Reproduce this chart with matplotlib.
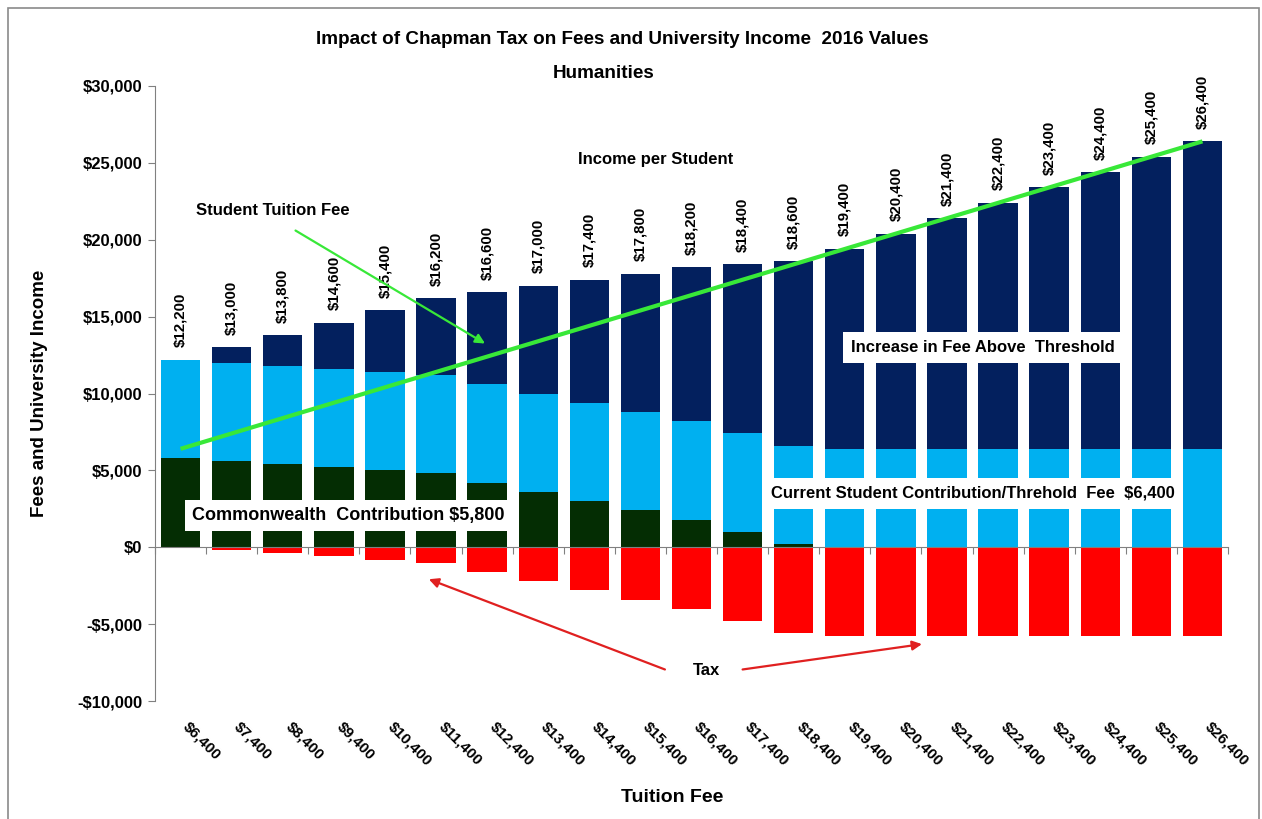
import matplotlib
matplotlib.use("Agg")
import matplotlib.pyplot as plt
from matplotlib.ticker import FuncFormatter, FixedLocator
from matplotlib.patches import Rectangle
import matplotlib.transforms as mtransforms

plt.rcParams['font.family'] = ['Liberation Sans', 'DejaVu Sans']
plt.rcParams['font.weight'] = 'bold'

# data
fees = [6400, 7400, 8400, 9400, 10400, 11400, 12400, 13400, 14400, 15400, 16400,
        17400, 18400, 19400, 20400, 21400, 22400, 23400, 24400, 25400, 26400]
commonwealth = [5800, 5600, 5400, 5200, 5000, 4800, 4200, 3600, 3000, 2400, 1800,
                1000, 200, 0, 0, 0, 0, 0, 0, 0, 0]
threshold = [6400, 6400, 6400, 6400, 6400, 6400, 6400, 6400, 6400, 6400, 6400,
             6400, 6400, 6400, 6400, 6400, 6400, 6400, 6400, 6400, 6400]
increase = [0, 1000, 2000, 3000, 4000, 5000, 6000, 7000, 8000, 9000, 10000,
            11000, 12000, 13000, 14000, 15000, 16000, 17000, 18000, 19000, 20000]
tax = [0, -200, -400, -600, -800, -1000, -1600, -2200, -2800, -3400, -4000,
       -4800, -5600, -5800, -5800, -5800, -5800, -5800, -5800, -5800, -5800]
income = [12200, 13000, 13800, 14600, 15400, 16200, 16600, 17000, 17400, 17800, 18200,
          18400, 18600, 19400, 20400, 21400, 22400, 23400, 24400, 25400, 26400]
tick_labels = ['$' + format(f, ',') for f in fees]

navy = '#03205E'
light_blue = '#00B0F0'
dark_green = '#042D03'
red = '#FF0000'
lime = '#38E838'

W, H = 1262, 819
fig = plt.figure(figsize=(W / 100, H / 100), dpi=100)
ax = fig.add_axes([155 / W, 1 - 701 / H, (1228 - 155) / W, (701 - 86) / H])

x = list(range(len(fees)))
bw = 0.77
ax.bar(x, commonwealth, bw, color=dark_green, zorder=2)
ax.bar(x, threshold, bw, bottom=commonwealth, color=light_blue, zorder=2)
bottom3 = [c + t for c, t in zip(commonwealth, threshold)]
ax.bar(x, increase, bw, bottom=bottom3, color=navy, zorder=2)
ax.bar(x, tax, bw, color=red, zorder=2)

# student tuition fee line
ax.plot(x, fees, color=lime, lw=3, zorder=4, solid_capstyle='butt')

for i, v in enumerate(income):
    ax.annotate('$' + format(v, ','), (i, v), xytext=(0, 9), textcoords='offset points',
                rotation=90, ha='center', va='bottom', fontsize=10.8, fontweight='bold')

ax.set_xlim(-0.5, len(fees) - 0.5)
ax.set_ylim(-10000, 30000)
ax.set_yticks([-10000, -5000, 0, 5000, 10000, 15000, 20000, 25000, 30000])
ax.yaxis.set_major_formatter(FuncFormatter(lambda v, p: ('-$' if v < 0 else '$') + format(abs(int(v)), ',')))
ax.tick_params(axis='y', labelsize=12, length=5, color='#808080', pad=4)
for lab in ax.get_yticklabels():
    lab.set_fontweight('bold')

ax.spines['top'].set_visible(False)
ax.spines['right'].set_visible(False)
ax.spines['left'].set_color('#808080')
ax.spines['bottom'].set_color('#808080')
ax.spines['bottom'].set_position(('data', 0))
ax.xaxis.set_major_locator(FixedLocator([i - 0.5 for i in range(len(fees) + 1)]))
ax.tick_params(axis='x', length=5, color='#808080', labelbottom=False)

trans = mtransforms.blended_transform_factory(ax.transData, ax.transAxes)
for i, lab in enumerate(tick_labels):
    ax.text(i + 0.2, -0.03, lab, transform=trans, rotation=-45, rotation_mode='anchor',
            ha='left', va='top', fontsize=11, fontweight='bold')

ax.set_ylabel('Fees and University Income', fontsize=13.5, fontweight='bold')
ax.yaxis.set_label_coords(-0.0997, 0.5)
fig.text(672 / W, 1 - 798 / H, 'Tuition Fee', ha='center', va='center', fontsize=14, fontweight='bold')

fig.text(622 / W, 1 - 40 / H, 'Impact of Chapman Tax on Fees and University Income  2016 Values',
         ha='center', va='center', fontsize=13.6, fontweight='bold')
fig.text(604 / W, 1 - 73 / H, 'Humanities', ha='center', va='center', fontsize=13.6, fontweight='bold')

box = dict(boxstyle='square,pad=0.5', fc='white', ec='none')
ax.text(15.7, 13000, 'Increase in Fee Above  Threshold', ha='center', va='center',
        fontsize=12, fontweight='bold', bbox=box, zorder=5)
ax.text(15.5, 3500, 'Current Student Contribution/Threhold  Fee  $6,400', ha='center', va='center',
        fontsize=12, fontweight='bold', bbox=box, zorder=5)
ax.text(3.28, 2080, 'Commonwealth  Contribution $5,800', ha='center', va='center',
        fontsize=13, fontweight='bold', bbox=dict(boxstyle='square,pad=0.4', fc='white', ec='none'), zorder=5)
ax.text(9.3, 25200, 'Income per Student', ha='center', va='center', fontsize=12, fontweight='bold', zorder=5)
ax.text(1.81, 21900, 'Student Tuition Fee', ha='center', va='center', fontsize=12, fontweight='bold', zorder=5)
ax.annotate('', xy=(5.96, 13250), xytext=(2.25, 20600),
            arrowprops=dict(arrowstyle='-|>', color=lime, lw=1.6, mutation_scale=14, shrinkA=0, shrinkB=0),
            zorder=5)
ax.text(10.3, -8000, 'Tax', ha='center', va='center', fontsize=12, fontweight='bold')
ax.annotate('', xy=(4.86, -2080), xytext=(9.48, -7950),
            arrowprops=dict(arrowstyle='-|>', color='#E02020', lw=1.6, mutation_scale=14, shrinkA=0, shrinkB=0))
ax.annotate('', xy=(14.51, -6300), xytext=(11.0, -7950),
            arrowprops=dict(arrowstyle='-|>', color='#E02020', lw=1.6, mutation_scale=14, shrinkA=0, shrinkB=0))

fig.patches.append(Rectangle((8 / W, -0.02), (1259 - 8) / W, 1 - 8 / H + 0.02, transform=fig.transFigure,
                             fill=False, ec='#8A8A8A', lw=1.2))

fig.savefig('out.png', dpi=100)
